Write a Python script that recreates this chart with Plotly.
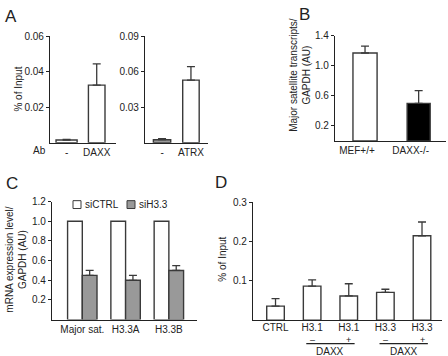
import plotly.graph_objects as go

W, H = 448, 356
FONT = "Liberation Sans, Arial, Helvetica, sans-serif"
INK = "#222222"
EDGE = "#3a3a3a"
GRAY = "#999999"

# ---------------- data ----------------
# Panel A (left: DAXX ChIP, right: ATRX ChIP)
a1_cats = ["-", "DAXX"]
a1_vals = [0.0015, 0.0325]
a1_err = [0.0003, 0.012]
a1_ticks = [0.02, 0.04, 0.06]
a1_ticktext = ["0.02", "0.04", "0.06"]

a2_cats = ["-", "ATRX"]
a2_vals = [0.0025, 0.053]
a2_err = [0.0008, 0.0115]
a2_ticks = [0.03, 0.06, 0.09]
a2_ticktext = ["0.03", "0.06", "0.09"]

# Panel B
b_cats = ["MEF+/+", "DAXX-/-"]
b_vals = [1.17, 0.50]
b_err = [0.09, 0.17]
b_ticks = [0.2, 0.6, 1.0, 1.4]
b_ticktext = ["0.2", "0.6", "1.0", "1.4"]

# Panel C
c_cats = ["Major sat.", "H3.3A", "H3.3B"]
c_ctrl = [1.0, 1.0, 1.0]
c_kd = [0.45, 0.40, 0.50]
c_kd_err = [0.05, 0.05, 0.05]
c_ticks = [0.2, 0.4, 0.6, 0.8, 1.0, 1.2]
c_ticktext = ["0.2", "0.4", "0.6", "0.8", "1.0", "1.2"]
c_series = ["siCTRL", "siH3.3"]

# Panel D
d_pos = [0, 1, 2, 3, 4]
d_labels = ["CTRL", "H3.1", "H3.1", "H3.3", "H3.3"]
d_daxx = ["", "\u2013", "+", "\u2013", "+"]
d_vals = [0.036, 0.087, 0.062, 0.071, 0.215]
d_err = [0.019, 0.016, 0.031, 0.008, 0.035]
d_ticks = [0.1, 0.2, 0.3]
d_ticktext = ["0.1", "0.2", "0.3"]
d_groups = [(1, 2), (3, 4)]


def fx(px):
    return px / W


def fy(py):
    return 1 - py / H


def err(arr):
    return dict(type="data", array=arr, arrayminus=[0] * len(arr), symmetric=False,
                color=EDGE, thickness=1.3, width=4)


fig = go.Figure()

# A left
fig.add_trace(go.Bar(x=a1_cats, y=a1_vals, width=[0.7, 0.55], error_y=err(a1_err),
                     marker=dict(color="white", line=dict(color=EDGE, width=1.4)),
                     xaxis="x", yaxis="y", showlegend=False))
# A right
fig.add_trace(go.Bar(x=a2_cats, y=a2_vals, width=[0.6, 0.57], error_y=err(a2_err),
                     marker=dict(color=[GRAY, "white"], line=dict(color=EDGE, width=1.4)),
                     xaxis="x2", yaxis="y2", showlegend=False))
# B
fig.add_trace(go.Bar(x=b_cats, y=b_vals, width=[0.45, 0.43], error_y=err(b_err),
                     marker=dict(color=["white", "black"], line=dict(color=EDGE, width=1.4)),
                     xaxis="x3", yaxis="y3", showlegend=False))
# C
fig.add_trace(go.Bar(x=c_cats, y=c_ctrl, name=c_series[0],
                     marker=dict(color="white", line=dict(color=EDGE, width=1.4)),
                     xaxis="x4", yaxis="y4", showlegend=False, offsetgroup="a"))
fig.add_trace(go.Bar(x=c_cats, y=c_kd, name=c_series[1], error_y=err(c_kd_err),
                     marker=dict(color=GRAY, line=dict(color=EDGE, width=1.4)),
                     xaxis="x4", yaxis="y4", showlegend=False, offsetgroup="b"))
# D
fig.add_trace(go.Bar(x=d_pos, y=d_vals, width=0.48, error_y=err(d_err),
                     marker=dict(color="white", line=dict(color=EDGE, width=1.4)),
                     xaxis="x5", yaxis="y5", showlegend=False))

tickfont = dict(family=FONT, size=10, color=INK)


def yax(dom_px, rng, tv, tt):
    return dict(domain=[fy(dom_px[1]), fy(dom_px[0])], range=rng, tickvals=tv, ticktext=tt,
                showline=True, linecolor=INK, linewidth=1.2, ticks="outside", ticklen=3,
                tickwidth=1.2, tickcolor=INK, showgrid=False, zeroline=False,
                tickfont=tickfont, fixedrange=True)


def xax(dom_px, rng, anchor, **kw):
    d = dict(domain=[fx(dom_px[0]), fx(dom_px[1])], range=rng, anchor=anchor,
             showline=True, linecolor=INK, linewidth=1.2, ticks="", showgrid=False,
             zeroline=False, tickfont=tickfont, fixedrange=True)
    d.update(kw)
    return d


fig.update_layout(
    width=W, height=H, margin=dict(l=0, r=0, t=0, b=0),
    paper_bgcolor="white", plot_bgcolor="white",
    font=dict(family=FONT, size=10, color=INK),
    barmode="group", bargap=0.32, bargroupgap=0,
    xaxis=xax((50, 116), [-0.55, 1.64], "y", type="category"),
    yaxis=yax((31, 139), [0, 0.06], a1_ticks, a1_ticktext) | dict(anchor="x"),
    xaxis2=xax((145, 208), [-0.59, 1.59], "y2", type="category"),
    yaxis2=yax((31, 139), [0, 0.09], a2_ticks, a2_ticktext) | dict(anchor="x2"),
    xaxis3=xax((335, 446), [-0.56, 1.51], "y3", type="category", ticklabelshift=-8),
    yaxis3=yax((30.2, 137.3), [0, 1.4], b_ticks, b_ticktext) | dict(anchor="x3"),
    xaxis4=xax((52, 197), [-0.70, 2.65], "y4", type="category"),
    yaxis4=yax((199, 319), [0, 1.2], c_ticks, c_ticktext) | dict(anchor="x4"),
    xaxis5=xax((253, 442), [-0.615, 4.546], "y5", tickvals=d_pos, ticktext=d_labels,
               ticklabelstandoff=-2),
    yaxis5=yax((199.7, 319.7), [0, 0.3], d_ticks, d_ticktext) | dict(anchor="x5"),
)

ann = []


def label(txt, x, y, size=10, **kw):
    a = dict(text=txt, x=fx(x), y=fy(y), xref="paper", yref="paper", showarrow=False,
             font=dict(family=FONT, size=size, color=INK), xanchor="center", yanchor="middle")
    a.update(kw)
    ann.append(a)


# panel letters
label("A", 11, 11, size=17)
label("B", 304, 9, size=17)
label("C", 12, 181, size=17)
label("D", 221, 180, size=17)

# y titles
label("% of Input", 19, 85, textangle=-90)
label("Major satellite transcripts/<br>GAPDH (AU)", 300, 70, textangle=-90)
label("mRNA expression level/<br>GAPDH (AU)", 16, 258, textangle=-90)
label("% of Input", 223, 258, textangle=-90)
label("Ab", 39, 147)

# D: DAXX -/+ row
for p, s in zip(d_pos, d_daxx):
    if s:
        ann.append(dict(text=s, x=p, xref="x5", y=fy(339.5), yref="paper", showarrow=False,
                        font=dict(family=FONT, size=9, color=INK), yanchor="middle"))
shapes = []
for g0, g1 in d_groups:
    shapes.append(dict(type="line", xref="x5", yref="paper", x0=g0 - 0.16, x1=g1 + 0.16,
                       y0=fy(343.5), y1=fy(343.5), line=dict(color=INK, width=1.2)))
    ann.append(dict(text="DAXX", x=(g0 + g1) / 2, xref="x5", y=fy(351), yref="paper",
                    showarrow=False, font=dict(family=FONT, size=10, color=INK), yanchor="middle"))

# C legend (drawn manually)
leg = [(73, "white", c_series[0]), (127, GRAY, c_series[1])]
for x0, col, name in leg:
    shapes.append(dict(type="rect", xref="paper", yref="paper", x0=fx(x0), x1=fx(x0 + 8),
                       y0=fy(206), y1=fy(198), fillcolor=col, line=dict(color=EDGE, width=1)))
    label(name, x0 + 10, 202, xanchor="left")

fig.update_layout(annotations=ann, shapes=shapes)
fig.write_html("out.html", config={"displayModeBar": False},
               post_script="document.body.style.margin='0';document.body.style.overflow='hidden';")
